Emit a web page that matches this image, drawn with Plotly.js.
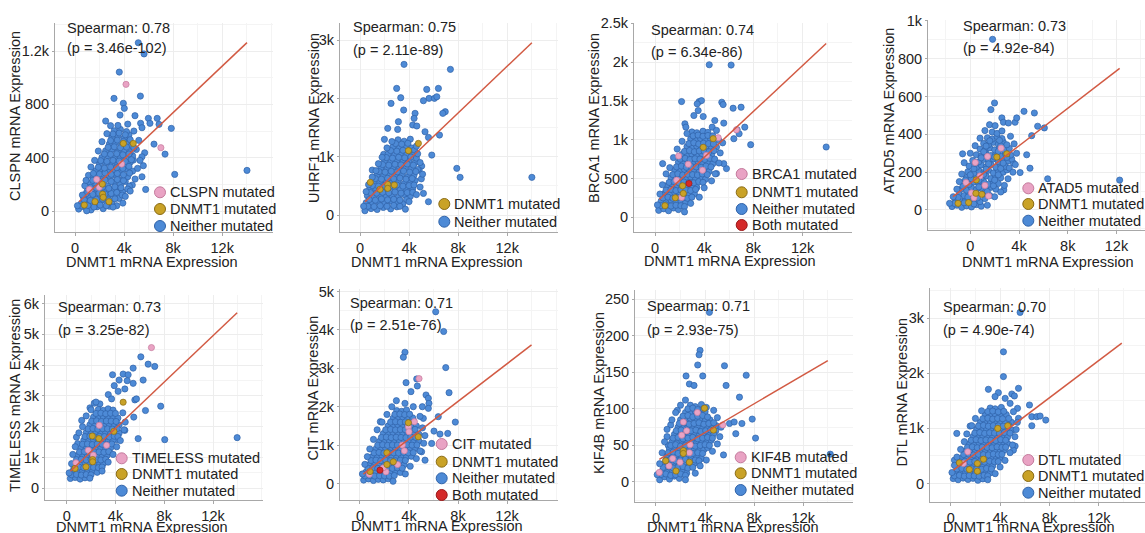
<!DOCTYPE html>
<html><head><meta charset="utf-8">
<script src="https://cdn.plot.ly/plotly-3.0.1.min.js"></script>
<style>html,body{margin:0;padding:0;background:#fff}#chart{width:1145px;height:533px}</style>
</head><body><div id="chart"></div>
<script>
// ---------- DATA (x = DNMT1 mRNA expression in thousands, y = gene mRNA expression) ----------
const genes = ['CLSPN','UHRF1','BRCA1','ATAD5','TIMELESS','CIT','KIF4B','DTL'];
const spearman = ['0.78','0.75','0.74','0.73','0.73','0.71','0.71','0.70'];
const pvals = ['3.46e-102','2.11e-89','6.34e-86','4.92e-84','3.25e-82','2.51e-76','2.93e-75','4.90e-74'];
const xTickVals = [0,4,8,12];
const xTickText = ['0','4k','8k','12k'];

const clspnNeither = [[5.16,1262],[5.63,1178],[3.61,1042],[3.18,845],[5.33,862],[3.94,808],[4.02,770],[2.5,675],[3.67,720],[4.89,715],[5.98,695],[6.7,695],[5.35,658],[6.11,658],[6.85,650],[7.85,620],[5.46,625],[6.44,502],[7.34,427],[5.68,437],[5.57,340],[5.46,407],[8.13,275],[14.02,305],[5.46,257],[5.76,162],[4.67,195],[4.43,187],[4.76,382],
[0.3,15],[0.8,28],[1.3,8],[1.8,32],[2.3,18],[2.8,36],[0.95,2],
[0.5,55],[1.0,72],[1.5,48],[2.0,66],[2.5,78],[3.0,58],[3.4,40],
[0.7,100],[1.2,112],[1.7,94],[2.2,118],[2.7,104],[3.2,122],[3.6,95],
[1.0,152],[1.5,140],[2.0,162],[2.5,146],[3.0,156],[3.5,168],[3.9,142],
[1.2,210],[1.7,194],[2.2,206],[2.7,188],[3.2,216],[3.7,200],[4.1,222],
[1.1,268],[1.5,250],[1.9,262],[2.4,244],[2.9,256],[3.4,266],[3.9,240],[4.3,258],
[1.7,302],[2.2,312],[2.7,294],[3.2,306],[3.7,290],[4.2,316],[4.7,300],
[2.0,352],[2.5,362],[3.0,344],[3.5,356],[4.0,338],[4.5,366],
[2.2,402],[2.7,412],[3.2,394],[3.7,406],[4.2,390],[4.7,414],
[2.5,452],[3.0,462],[3.5,444],[4.0,456],[4.5,440],[5.0,462],
[2.8,502],[3.3,512],[3.8,494],[4.3,522],[4.6,488],
[3.0,552],[3.5,562],[4.0,546],[4.4,572],
[3.2,602],[3.7,612],[4.2,596],[3.5,642],[4.3,652],
[0.55,38],[1.05,42],[1.55,30],[2.05,45],[2.55,40],[3.1,30],
[0.75,85],[1.25,80],[1.75,88],[2.25,90],[2.75,84],[3.25,92],
[0.9,130],[1.45,125],[1.95,135],[2.45,128],[2.95,132],[3.4,140],[3.85,120],
[1.25,178],[1.75,172],[2.25,180],[2.75,170],[3.25,182],[3.75,175],[4.3,165],
[1.45,230],[1.95,225],[2.45,232],[2.95,222],[3.45,236],[3.95,228],
[1.5,282],[2.0,278],[2.45,285],[2.95,275],[3.45,282],[3.95,272],[4.45,285],
[1.9,328],[2.4,322],[2.9,330],[3.4,325],[3.9,320],[4.4,335],
[2.1,378],[2.6,372],[3.1,380],[3.6,375],[4.1,372],[4.6,385],
[2.4,428],[2.9,425],[3.4,430],[3.9,422],[4.4,428],
[2.7,478],[3.2,482],[3.7,475],[4.2,480],[4.8,475],
[2.9,528],[3.45,532],[3.95,522],[4.5,535],
[3.1,578],[3.6,585],[4.1,572]];
const clspnNeitherEdge = [[0.2,40],[0.6,120],[0.8,190],[0.9,230],[1.3,330],[1.6,380],[1.9,450],[2.2,520],[2.6,580],[2.9,640],[3.9,60],[4.1,110],[4.5,150],[4.9,240],[5.1,320],[5.3,380],[5.2,530],[4.8,600]];
const clspnGeneMut = [[4.16,950],[7.0,475],[1.17,162],[1.77,237],[1.98,178],[3.8,352]];
const clspnDnmt1Mut = [[3.94,507],[4.75,507],[2.23,202],[2.25,127],[2.3,103],[1.63,70],[2.77,70],[0.76,45]];
const clspnBothMut = [];
const clspnFitX = [0.33,14.02], clspnFitY = [70,1263];

const uhrf1Neither = [[3.59,2583],[7.37,2497],[2.99,2171],[5.44,2154],[6.39,2171],[3.32,2011],[5.63,2000],[6.07,2000],[6.26,2028],[5.17,1960],[2.53,1914],[3.56,1800],[6.95,1771],[6.75,1743],[4.49,1743],[4.41,1657],[3.13,1600],[4.3,1543],[4.63,1526],[5.3,1428],[6.48,1371],[2.26,1486],[3.07,1468],[5.58,1331],[1.99,1297],[5.85,1028],[7.89,800],[8.16,646],[14.01,646],[5.17,371],[5.58,228],[3.89,303],[1.93,1040],[1.0,771],[5.03,840],[4.82,771],
[0.4,74],[0.9,110],[1.4,95],[1.9,130],[2.5,105],[3.0,140],
[0.5,210],[1.0,190],[1.5,230],[2.0,200],[2.5,240],[3.0,215],[3.5,195],
[0.6,330],[1.1,300],[1.6,345],[2.1,310],[2.6,335],[3.1,300],[3.6,350],[4.1,320],
[0.8,450],[1.3,425],[1.8,460],[2.3,430],[2.8,465],[3.3,440],[3.8,420],[4.3,455],
[1.1,570],[1.6,545],[2.1,580],[2.6,555],[3.1,575],[3.6,540],[4.1,565],[4.5,590],
[1.4,690],[1.9,665],[2.4,700],[2.9,670],[3.4,695],[3.9,660],[4.4,685],
[1.7,810],[2.2,785],[2.7,820],[3.2,790],[3.7,815],[4.2,795],[4.7,780],
[2.0,930],[2.5,905],[3.0,940],[3.5,910],[4.0,935],[4.5,900],
[2.3,1050],[2.8,1025],[3.3,1060],[3.8,1030],[4.3,1055],
[2.7,1170],[3.2,1145],[3.7,1180],[4.2,1150],
[3.1,1290],[3.6,1265],[4.1,1300],
[0.65,150],[1.15,145],[1.65,160],[2.2,150],[2.75,165],[3.25,150],
[0.75,265],[1.25,255],[1.75,275],[2.25,260],[2.75,270],[3.25,255],[3.8,265],
[0.85,385],[1.35,375],[1.85,390],[2.35,380],[2.85,395],[3.35,375],[3.85,385],[4.3,390],
[1.0,505],[1.5,495],[2.0,510],[2.5,500],[3.0,515],[3.5,495],[4.0,505],[4.4,515],
[1.25,625],[1.75,615],[2.25,630],[2.75,620],[3.25,635],[3.75,615],[4.25,625],
[1.55,745],[2.05,735],[2.55,750],[3.05,740],[3.55,755],[4.05,735],[4.55,745],
[1.85,865],[2.35,855],[2.85,870],[3.35,860],[3.85,875],[4.35,855],
[2.15,985],[2.65,975],[3.15,990],[3.65,980],[4.15,995],[4.6,975],
[2.5,1105],[3.0,1095],[3.5,1110],[4.0,1100],[4.45,1115],
[2.9,1225],[3.4,1215],[3.9,1230]];
const uhrf1NeitherEdge = [[0.3,150],[0.5,400],[0.7,520],[1.0,650],[1.3,760],[1.5,880],[1.8,990],[2.2,1150],[2.6,1260],[3.7,100],[4.0,230],[4.6,350],[4.9,480],[5.0,620],[5.1,700],[4.9,900],[4.7,1050],[4.6,1180]];
const uhrf1GeneMut = [];
const uhrf1Dnmt1Mut = [[0.84,560],[1.63,440],[2.26,526],[2.26,457],[2.8,514],[3.95,1103],[4.76,1228]];
const uhrf1BothMut = [];
const uhrf1FitX = [0.41,14.01], uhrf1FitY = [229,2954];

const brca1Neither = [[4.41,1966],[6.19,1962],[2.16,1492],[3.59,1492],[3.78,1504],[3.43,1462],[5.43,1483],[5.54,1453],[6.35,1406],[7.0,1419],[3.51,1376],[3.92,1299],[3.16,1312],[2.43,1205],[4.86,1248],[5.59,1214],[2.51,1162],[4.65,1162],[7.3,1162],[6.68,1128],[6.41,1013],[6.84,1077],[5.0,1120],[7.78,936],[13.92,906],[5.81,628],[5.59,692],[5.0,564],[0.62,692],
[0.3,90],[0.7,110],[1.1,85],[1.5,120],[1.9,100],
[0.5,210],[0.9,190],[1.3,225],[1.7,200],[2.1,215],[2.5,195],
[0.8,310],[1.2,290],[1.6,320],[2.0,300],[2.4,315],[2.8,290],[3.2,305],
[1.0,410],[1.4,390],[1.8,420],[2.2,395],[2.6,415],[3.0,400],[3.4,385],
[1.3,510],[1.7,490],[2.1,515],[2.5,500],[2.9,520],[3.3,495],[3.7,510],[4.1,490],
[1.6,610],[2.0,590],[2.4,615],[2.8,600],[3.2,620],[3.6,595],[4.0,610],[4.4,590],
[1.9,710],[2.3,690],[2.7,715],[3.1,700],[3.5,720],[3.9,695],[4.3,710],[4.7,690],
[2.2,810],[2.6,790],[3.0,815],[3.4,800],[3.8,820],[4.2,795],[4.6,805],
[2.6,910],[3.0,890],[3.4,915],[3.8,900],[4.2,920],[4.6,895],[5.0,905],
[2.9,1010],[3.3,990],[3.7,1015],[4.1,1000],[4.5,1020],[5.2,990],
[3.0,1100],[3.4,1090],[3.9,1110],[4.3,1095],
[0.5,150],[0.9,160],[1.3,145],[1.7,155],[2.1,150],[2.4,140],
[0.65,250],[1.05,260],[1.45,245],[1.85,255],[2.25,250],[2.65,245],[3.0,260],
[0.9,350],[1.3,360],[1.7,345],[2.1,355],[2.5,350],[2.9,345],[3.3,360],
[1.15,450],[1.55,460],[1.95,445],[2.35,455],[2.75,450],[3.15,445],[3.55,460],[3.9,450],
[1.45,550],[1.85,560],[2.25,545],[2.65,555],[3.05,550],[3.45,545],[3.85,560],[4.25,550],
[1.75,650],[2.15,660],[2.55,645],[2.95,655],[3.35,650],[3.75,645],[4.15,660],[4.55,650],
[2.05,750],[2.45,760],[2.85,745],[3.25,755],[3.65,750],[4.05,745],[4.45,760],[4.85,750],
[2.4,850],[2.8,860],[3.2,845],[3.6,855],[4.0,850],[4.4,845],[4.8,860],
[2.75,950],[3.15,960],[3.55,945],[3.95,955],[4.35,950],[4.75,945],
[3.1,1050],[3.5,1060],[3.9,1045],[4.3,1055],[4.7,1050]];
const brca1NeitherEdge = [[0.2,160],[0.4,300],[0.6,420],[0.9,560],[1.2,640],[1.5,770],[1.8,880],[2.2,980],[2.6,1080],[2.4,70],[2.9,180],[3.6,260],[4.0,380],[4.6,470],[4.9,560],[5.2,700],[5.3,830],[5.5,960]];
const brca1GeneMut = [[1.92,790],[2.7,684],[1.76,479],[4.19,799],[3.86,607],[5.14,1026],[6.62,1128],[2.16,256]];
const brca1Dnmt1Mut = [[4.73,1013],[3.92,902],[2.24,406],[2.3,308],[1.65,252],[0.81,150]];
const brca1BothMut = [[2.76,436]];
const brca1FitX = [0.35,13.92], brca1FitY = [231,2240];

const atad5Neither = [[1.83,903],[1.99,566],[1.69,531],[2.59,487],[2.72,464],[3.13,460],[3.68,464],[3.81,487],[4.41,522],[5.26,513],[5.53,443],[6.08,434],[5.04,393],[1.58,451],[2.04,446],[4.63,292],[4.09,198],[4.9,221],[6.35,165],[12.26,158],[2.75,106],[3.54,248],[-0.63,297],
[-1.5,18],[-1.1,25],[-0.7,14],[-0.3,22],[0.1,16],[0.5,28],[0.9,20],
[-1.2,52],[-0.8,45],[-0.4,58],[0.0,48],[0.4,55],[0.8,44],[1.2,60],
[-0.9,82],[-0.5,76],[-0.1,88],[0.3,78],[1.1,85],[1.6,76],
[-0.7,112],[-0.3,105],[0.1,118],[0.5,108],[0.9,115],[1.3,104],[1.7,120],[2.1,110],
[-0.5,142],[-0.1,135],[0.3,148],[0.7,138],[1.1,150],[1.5,136],[1.9,146],[2.3,140],
[-0.3,172],[0.1,165],[0.5,178],[0.9,168],[1.3,180],[1.7,166],[2.1,176],[2.5,170],
[-0.2,202],[0.3,195],[0.7,208],[1.1,198],[1.5,210],[1.9,196],[2.3,206],[2.7,200],[3.0,212],
[-0.1,232],[0.5,225],[0.9,238],[1.3,228],[1.7,240],[2.1,226],[2.5,236],[2.9,230],[3.2,222],
[0.2,262],[0.7,255],[1.1,268],[1.5,258],[1.9,270],[2.3,256],[2.7,266],[3.1,260],[3.4,270],
[0.5,292],[0.9,285],[1.3,298],[1.7,288],[2.1,300],[2.5,286],[2.9,296],[3.3,290],
[0.8,322],[1.2,315],[1.6,328],[2.0,318],[2.4,330],[2.8,316],[3.2,326],
[1.1,352],[1.5,345],[1.9,358],[2.3,348],[2.7,360],[3.0,345],
[1.4,382],[1.8,375],[2.2,388],[2.6,378],
[1.8,412],[2.2,405],[2.6,418],
[-1.3,35],[-0.5,38],[0.3,32],[-1.0,66],[-0.2,68],[0.6,64],[1.4,98],[-0.6,125],[0.7,122],[1.9,128],[-0.4,158],[0.7,156],[2.0,158],[0.0,186],[1.1,188],[2.3,186],[0.3,218],[1.3,216],[2.5,220],[0.4,246],[1.5,244],[2.7,248],[0.9,276],[2.0,280],[3.0,278],[1.1,308],[2.3,310],[1.3,338],[2.5,340],[1.6,366],[2.4,368]];
const atad5NeitherEdge = [[-1.7,35],[-1.4,70],[-1.1,110],[-0.9,150],[-0.7,190],[-0.5,250],[0.0,300],[0.4,340],[0.8,380],[1.2,420],[1.4,25],[2.0,70],[2.5,95],[2.8,130],[3.1,165],[3.5,200],[3.7,240],[3.8,300],[3.6,350],[3.3,390]];
const atad5GeneMut = [[2.53,327],[1.42,283],[0.41,251],[0.8,180],[-0.35,145],[0.1,90],[1.5,74],[0.3,65],[1.2,130]];
const atad5Dnmt1Mut = [[2.18,280],[3.0,297],[0.49,159],[0.46,88],[0.95,83],[-0.14,39],[-1.0,35]];
const atad5BothMut = [];
const atad5FitX = [-1.42,12.26], atad5FitY = [71,749];

const timelessNeither = [[6.08,4268],[6.68,4031],[7.22,3956],[3.76,3687],[4.63,3709],[5.04,3687],[5.45,3902],[6.27,3515],[4.3,3515],[4.96,3494],[3.9,3333],[4.77,3225],[5.45,3408],[3.41,3042],[4.22,3150],[3.68,2903],[5.59,2870],[5.72,2903],[7.71,2666],[6.46,2526],[1.91,2612],[2.26,2763],[2.72,2741],[5.5,2311],[1.23,2204],[5.86,1613],[8.04,1580],[13.98,1645],[4.77,1881],[4.17,1580],[0.8,1660],[0.9,1450],
[0.3,320],[0.7,350],[1.1,300],[1.5,340],
[0.5,560],[0.9,530],[1.3,580],[1.7,540],[2.1,570],[2.5,520],
[0.7,810],[1.1,780],[1.5,830],[1.9,790],[2.3,820],[2.7,780],[3.0,800],
[0.9,1060],[1.3,1030],[1.7,1080],[2.1,1040],[2.5,1070],[2.9,1030],[3.3,1060],
[1.2,1310],[1.6,1280],[2.0,1330],[2.4,1290],[2.8,1320],[3.2,1280],[3.6,1310],
[1.4,1560],[1.8,1530],[2.2,1580],[2.6,1540],[3.0,1570],[3.4,1530],[3.8,1560],
[1.6,1810],[2.0,1780],[2.4,1830],[2.8,1790],[3.2,1820],[3.6,1780],[4.0,1810],[4.3,1790],
[1.9,2060],[2.3,2030],[2.7,2080],[3.1,2040],[3.5,2070],[3.9,2030],[4.3,2060],
[2.2,2310],[2.6,2280],[3.0,2330],[3.4,2290],[3.8,2320],[4.2,2280],
[2.6,2560],[3.0,2530],[3.4,2580],[3.8,2540],
[0.4,440],[0.8,450],[1.2,430],[1.6,445],[2.0,440],
[0.6,680],[1.0,690],[1.4,670],[1.8,685],[2.2,680],[2.6,670],[2.9,690],
[0.8,930],[1.2,940],[1.6,920],[2.0,935],[2.4,930],[2.8,920],[3.2,940],
[1.05,1180],[1.45,1190],[1.85,1170],[2.25,1185],[2.65,1180],[3.05,1170],[3.45,1190],
[1.3,1430],[1.7,1440],[2.1,1420],[2.5,1435],[2.9,1430],[3.3,1420],[3.7,1440],
[1.5,1680],[1.9,1690],[2.3,1670],[2.7,1685],[3.1,1680],[3.5,1670],[3.9,1690],[4.2,1680],
[1.75,1930],[2.15,1940],[2.55,1920],[2.95,1935],[3.35,1930],[3.75,1920],[4.15,1940],
[2.05,2180],[2.45,2190],[2.85,2170],[3.25,2185],[3.65,2180],[4.05,2170],
[2.4,2430],[2.8,2440],[3.2,2420],[3.6,2435],[4.0,2430]];
const timelessNeitherEdge = [[0.2,500],[0.4,800],[0.5,1100],[0.7,1350],[1.0,1800],[1.3,2000],[1.6,2350],[2.0,2550],[2.4,2800],[1.9,330],[2.9,560],[3.4,850],[3.8,1100],[4.1,1350],[4.4,1550],[4.7,1900],[4.8,2150],[4.6,2450]];
const timelessGeneMut = [[6.95,4569],[2.67,2043],[3.27,1398],[1.77,1236],[2.18,1075],[0.76,828]];
const timelessDnmt1Mut = [[4.63,2795],[3.87,1849],[2.64,1613],[2.1,1698],[2.13,935],[2.13,860],[1.58,699],[0.68,645]];
const timelessBothMut = [];
const timelessFitX = [0.3,13.98], timelessFitY = [555,5698];

const citNeither = [[6.18,4472],[6.83,3959],[7.0,3019],[3.67,3419],[3.54,3289],[4.63,2723],[3.76,2627],[4.16,2393],[4.68,2540],[5.39,2306],[5.58,2219],[5.63,2088],[5.58,1958],[2.97,2158],[3.67,2088],[4.35,2001],[5.09,2001],[7.27,2366],[7.78,1601],[6.39,1740],[6.53,1288],[6.04,1366],[7.16,1305],[5.17,1697],[4.35,1653],[1.66,1610],[5.31,609],[5.03,827],[5.85,1044],
[0.3,90],[0.7,120],[1.1,80],[1.5,110],[1.9,95],[2.3,125],
[0.5,300],[0.9,280],[1.3,320],[1.7,290],[2.1,315],[2.5,280],[2.9,305],[3.3,290],
[0.8,500],[1.2,480],[1.6,520],[2.0,490],[2.4,515],[2.8,480],[3.2,505],[3.6,490],
[1.0,700],[1.4,680],[1.8,720],[2.2,690],[2.6,715],[3.0,680],[3.4,705],[3.8,690],[4.2,710],
[1.3,900],[1.7,880],[2.1,920],[2.5,890],[2.9,915],[3.3,880],[3.7,905],[4.1,890],[4.5,910],
[1.6,1100],[2.0,1080],[2.4,1120],[2.8,1090],[3.2,1115],[3.6,1080],[4.0,1105],[4.4,1090],[4.8,1110],
[1.9,1300],[2.3,1280],[2.7,1320],[3.1,1290],[3.5,1315],[3.9,1280],[4.3,1305],[4.8,1290],
[2.3,1500],[2.7,1480],[3.1,1520],[3.5,1490],[3.9,1515],[4.3,1480],[4.6,1500],
[2.7,1700],[3.1,1680],[3.5,1720],[3.9,1690],[4.3,1710],
[3.0,1900],[3.4,1880],[3.8,1915],
[0.4,200],[0.8,210],[1.2,195],[1.6,205],[2.0,200],[2.4,195],[2.8,210],
[0.65,400],[1.05,410],[1.45,395],[1.85,405],[2.25,400],[2.65,395],[3.05,410],[3.45,400],
[0.9,600],[1.3,610],[1.7,595],[2.1,605],[2.5,600],[2.9,595],[3.3,610],[3.7,600],
[1.15,800],[1.55,810],[1.95,795],[2.35,805],[2.75,800],[3.15,795],[3.55,810],[3.95,800],[4.35,805],
[1.45,1000],[1.85,1010],[2.25,995],[2.65,1005],[3.05,1000],[3.45,995],[3.85,1010],[4.25,1000],[4.65,1005],
[1.75,1200],[2.15,1210],[2.55,1195],[2.95,1205],[3.35,1200],[3.75,1195],[4.15,1210],[4.55,1200],
[2.1,1400],[2.5,1410],[2.9,1395],[3.3,1405],[3.7,1400],[4.1,1395],[4.5,1410],
[2.5,1600],[2.9,1610],[3.3,1595],[3.7,1605],[4.1,1600],
[2.85,1800],[3.25,1810],[3.65,1795],[4.05,1805]];
const citNeitherEdge = [[0.2,250],[0.4,500],[0.6,700],[0.8,900],[1.1,1150],[1.4,1400],[1.8,1600],[2.2,1800],[2.6,2000],[2.7,60],[3.7,250],[4.1,450],[4.6,650],[4.9,850],[5.2,1050],[5.3,1250],[5.1,1450],[4.9,1750]];
const citGeneMut = [[4.82,2732],[4.44,1610],[3.95,1479],[4.0,1349],[3.46,1001],[3.62,853],[3.07,496],[2.12,305],[0.76,244],[1.9,409]];
const citDnmt1Mut = [[3.95,1583],[4.76,1218],[2.2,800],[2.72,566],[2.2,496],[0.82,313]];
const citBothMut = [[1.63,348]];
const citFitX = [0.27,14.0], citFitY = [244,3610];

const kif4bNeither = [[4.35,232],[3.59,180],[3.51,174],[3.4,160],[5.58,159],[2.45,145],[3.81,145],[7.35,146],[2.72,134],[3.1,132],[5.71,132],[6.8,116],[1.74,98],[7.84,86],[7.0,80],[6.5,66],[8.11,60],[14.2,38],[5.5,37],[5.99,80],[4.87,70],[6.37,82],[0.9,62],[1.2,78],[1.0,50],
[0.3,3],[0.7,7],[1.1,4],[1.5,8],[1.9,5],
[0.5,15],[0.9,13],[1.3,17],[1.7,14],[2.1,16],[2.5,12],
[0.7,25],[1.1,23],[1.5,27],[1.9,24],[2.3,26],[2.7,22],[3.1,25],
[0.9,35],[1.3,33],[1.7,37],[2.1,34],[2.5,36],[2.9,33],[3.3,35],[3.7,32],
[1.1,45],[1.5,43],[1.9,47],[2.3,44],[2.7,46],[3.1,43],[3.5,45],[3.9,44],[4.2,47],
[1.3,55],[1.7,53],[2.1,57],[2.5,54],[2.9,56],[3.3,53],[3.7,55],[4.1,54],[4.5,57],
[1.5,65],[1.9,63],[2.3,67],[2.7,64],[3.1,66],[3.5,63],[3.9,65],[4.3,64],[4.7,66],
[1.8,75],[2.2,73],[2.6,77],[3.0,74],[3.4,76],[3.8,73],[4.2,75],[4.6,74],[4.9,77],
[2.0,85],[2.4,83],[2.8,87],[3.2,84],[3.6,86],[4.0,83],[4.4,85],
[2.4,95],[2.8,93],[3.2,97],[3.6,94],[4.0,96],
[2.8,105],[3.2,103],[3.7,106],[4.1,102],
[0.4,10],[0.8,11],[1.2,9],[1.6,10],[2.0,11],[2.4,9],
[0.6,20],[1.0,21],[1.4,19],[1.8,20],[2.2,21],[2.6,19],[3.0,20],
[0.8,30],[1.2,31],[1.6,29],[2.0,30],[2.4,31],[2.8,29],[3.2,30],[3.5,29],
[1.0,40],[1.4,41],[1.8,39],[2.2,40],[2.6,41],[3.0,39],[3.4,40],[3.8,39],
[1.2,50],[1.6,51],[2.0,49],[2.4,50],[2.8,51],[3.2,49],[3.6,50],[4.0,51],[4.35,50],
[1.4,60],[1.8,61],[2.2,59],[2.6,60],[3.0,61],[3.4,59],[3.8,60],[4.2,61],[4.6,60],
[1.65,70],[2.05,71],[2.45,69],[2.85,70],[3.25,71],[3.65,69],[4.05,70],[4.45,71],
[1.9,80],[2.3,81],[2.7,79],[3.1,80],[3.5,81],[3.9,79],[4.3,80],[4.7,81],
[2.2,90],[2.6,91],[3.0,89],[3.4,90],[3.8,91],[4.2,89],
[2.6,100],[3.0,101],[3.4,99],[3.85,100]];
const kif4bNeitherEdge = [[0.1,10],[0.3,25],[0.5,40],[0.7,55],[0.9,72],[1.3,85],[1.6,95],[2.0,105],[2.4,112],[2.4,3],[3.2,12],[3.6,22],[4.1,30],[4.6,42],[5.0,52],[5.2,62],[5.3,75],[5.0,88],[4.7,98]];
const kif4bGeneMut = [[3.37,95],[2.23,82],[2.1,64],[2.5,70],[2.78,51],[1.36,32],[1.06,22],[0.27,13],[1.96,27],[5.44,78],[2.72,40]];
const kif4bDnmt1Mut = [[3.95,101],[4.68,71],[2.23,43],[2.23,39],[2.72,27],[0.79,29],[1.63,15]];
const kif4bBothMut = [];
const kif4bFitX = [0.27,14.0], kif4bFitY = [31,166];

const dtlNeither = [[5.62,3103],[4.27,2388],[4.27,1939],[5.49,1727],[3.05,1709],[3.86,1648],[4.95,1624],[5.16,1588],[4.41,1545],[3.59,1576],[4.81,1454],[6.38,1424],[5.41,1364],[0.49,909],[1.57,1042],[6.57,1212],[6.97,1212],[7.24,1224],[7.7,1151],[6.57,1048],[5.08,1303],[5.49,1182],[5.22,679],[5.08,606],[0.3,424],
[0.2,90],[0.6,70],[1.0,100],[1.4,75],[1.8,95],[2.2,60],[2.6,85],
[0.4,200],[0.8,185],[1.2,215],[1.6,190],[2.0,210],[2.4,180],[2.8,205],[3.2,195],
[0.6,330],[1.0,315],[1.4,345],[1.8,320],[2.2,340],[2.6,310],[3.0,335],[3.4,320],
[0.9,460],[1.3,445],[1.7,475],[2.1,450],[2.5,470],[2.9,440],[3.3,465],[3.7,450],[4.0,470],
[1.2,590],[1.6,575],[2.0,605],[2.4,580],[2.8,600],[3.2,570],[3.6,595],[4.0,580],[4.3,600],
[1.5,720],[1.9,705],[2.3,735],[2.7,710],[3.1,730],[3.5,700],[3.9,725],[4.3,710],[4.6,730],
[1.8,850],[2.2,835],[2.6,865],[3.0,840],[3.4,860],[3.8,830],[4.2,855],[4.6,840],
[2.1,980],[2.5,965],[2.9,995],[3.3,970],[3.7,990],[4.1,960],[4.5,985],[5.0,970],
[2.4,1110],[2.8,1095],[3.2,1125],[3.6,1100],[4.0,1120],[4.4,1090],[4.9,1115],
[2.8,1240],[3.2,1225],[3.6,1255],[4.0,1230],[4.5,1250],
[3.2,1370],[3.6,1355],[4.1,1380],
[0.3,140],[0.7,150],[1.1,135],[1.5,145],[1.9,140],[2.3,135],[2.7,150],[3.0,140],
[0.5,265],[0.9,275],[1.3,260],[1.7,270],[2.1,265],[2.5,260],[2.9,275],[3.3,265],
[0.75,395],[1.15,405],[1.55,390],[1.95,400],[2.35,395],[2.75,390],[3.15,405],[3.55,395],[3.85,400],
[1.05,525],[1.45,535],[1.85,520],[2.25,530],[2.65,525],[3.05,520],[3.45,535],[3.85,525],[4.15,530],
[1.35,655],[1.75,665],[2.15,650],[2.55,660],[2.95,655],[3.35,650],[3.75,665],[4.15,655],[4.45,660],
[1.65,785],[2.05,795],[2.45,780],[2.85,790],[3.25,785],[3.65,780],[4.05,795],[4.45,785],
[1.95,915],[2.35,925],[2.75,910],[3.15,920],[3.55,915],[3.95,910],[4.35,925],[4.8,915],
[2.25,1045],[2.65,1055],[3.05,1040],[3.45,1050],[3.85,1045],[4.25,1040],[4.7,1055],
[2.6,1175],[3.0,1185],[3.4,1170],[3.8,1180],[4.2,1175],[4.7,1180],
[3.0,1305],[3.4,1315],[3.85,1300],[4.3,1310]];
const dtlNeitherEdge = [[0.1,200],[0.3,330],[0.5,480],[0.8,620],[1.1,760],[1.3,900],[1.7,1050],[2.0,1180],[2.5,1320],[3.0,70],[3.6,180],[4.0,300],[4.4,420],[4.8,560],[5.0,700],[5.2,850],[5.3,980],[5.4,1110]];
const dtlGeneMut = [[1.38,576],[1.03,364]];
const dtlDnmt1Mut = [[3.81,1000],[4.62,1048],[0.7,376],[1.51,255],[2.16,364],[2.16,224],[2.65,442]];
const dtlBothMut = [];
const dtlFitX = [0.22,13.86], dtlFitY = [242,2545];

const yTickVals = [[0,400,800,1200],[0,1000,2000,3000],[0,500,1000,1500,2000,2500],[0,200,400,600,800,1000],[0,1000,2000,3000,4000,5000,6000],[0,1000,2000,3000,4000,5000],[0,50,100,150,200,250],[0,1000,2000,3000]];
const yTickText = [['0','400','800','1.2k'],['0','1k','2k','3k'],['0','500','1k','1.5k','2k','2.5k'],['0','200','400','600','800','1k'],['0','1k','2k','3k','4k','5k','6k'],['0','1k','2k','3k','4k','5k'],['0','50','100','150','200','250'],['0','1k','2k','3k']];

// ---------- LAYOUT / STYLE ----------
const W = 1145, H = 533;
const FONT = 'Liberation Sans, Arial, sans-serif';
const TXT = '#222';
const COL = {
  gene:  {fill:'#e9a3c4', line:'#c47a9c'},
  dnmt1: {fill:'#c9a227', line:'#8a6b14'},
  neither:{fill:'#4d8ad6', line:'#2f62a8'},
  both:  {fill:'#d42a2a', line:'#9a1a1a'}
};
const dataSets = [
  [clspnNeither.concat(clspnNeitherEdge), clspnGeneMut, clspnDnmt1Mut, clspnBothMut, clspnFitX, clspnFitY],
  [uhrf1Neither.concat(uhrf1NeitherEdge), uhrf1GeneMut, uhrf1Dnmt1Mut, uhrf1BothMut, uhrf1FitX, uhrf1FitY],
  [brca1Neither.concat(brca1NeitherEdge), brca1GeneMut, brca1Dnmt1Mut, brca1BothMut, brca1FitX, brca1FitY],
  [atad5Neither.concat(atad5NeitherEdge), atad5GeneMut, atad5Dnmt1Mut, atad5BothMut, atad5FitX, atad5FitY],
  [timelessNeither.concat(timelessNeitherEdge), timelessGeneMut, timelessDnmt1Mut, timelessBothMut, timelessFitX, timelessFitY],
  [citNeither.concat(citNeitherEdge), citGeneMut, citDnmt1Mut, citBothMut, citFitX, citFitY],
  [kif4bNeither.concat(kif4bNeitherEdge), kif4bGeneMut, kif4bDnmt1Mut, kif4bBothMut, kif4bFitX, kif4bFitY],
  [dtlNeither.concat(dtlNeitherEdge), dtlGeneMut, dtlDnmt1Mut, dtlBothMut, dtlFitX, dtlFitY]
];
// pixel geometry of each panel
const geom = [
  {l:55, r:273, t:23, b:232, xr:[-1.63,16.14], yr:[-157,1410], ydt:200,
   ytx:15, yty:116, xtx:151.7, xty:262, sx:65, s1:28.3, s2:48.3, lgx:160, lgy:[192.3,209,226], lg:['gene','dnmt1','neither']},
  {l:340, r:558, t:23, b:232, xr:[-1.63,16.14], yr:[-291,3292], ydt:500,
   ytx:314.5, yty:118.5, xtx:436.7, xty:262, sx:350.7, s1:27.3, s2:50, lgx:444.3, lgy:[204,221.7], lg:['dnmt1','neither']},
  {l:634, r:852, t:23, b:232, xr:[-1.71,16.02], yr:[-189,2504], ydt:250,
   ytx:594.5, yty:118.5, xtx:730, xty:261, sx:649.3, s1:30, s2:51.7, lgx:741.7, lgy:[174,192.3,209,225], lg:['gene','dnmt1','neither','both']},
  {l:928, r:1145, t:20, b:230, xr:[-3.47,14.34], yr:[-106,1005], ydt:100,
   ytx:889, yty:111, xtx:1047.7, xty:262, sx:961, s1:26, s2:48.3, lgx:1028.3, lgy:[188.3,204,220.7], lg:['gene','dnmt1','neither']},
  {l:45, r:263, t:295, b:500, xr:[-1.78,16.1], yr:[-380,6276], ydt:500,
   ytx:15, yty:396, xtx:141.7, xty:526.5, sx:56, s1:306.7, s2:330, lgx:121.7, lgy:[458.3,474,490.7], lg:['gene','dnmt1','neither']},
  {l:340, r:558, t:289, b:500, xr:[-1.63,16.16], yr:[-428,5065], ydt:500,
   ytx:312.5, yty:388, xtx:436.7, xty:526, sx:348.3, s1:303.3, s2:325, lgx:441.7, lgy:[444,461.7,478.3,495], lg:['gene','dnmt1','neither','both']},
  {l:635, r:853, t:290, b:502, xr:[-1.71,16.05], yr:[-27.4,262.6], ydt:25,
   ytx:599, yty:393, xtx:733, xty:527, sx:645, s1:306, s2:330, lgx:740.7, lgy:[457.3,473.3,490], lg:['gene','dnmt1','neither']},
  {l:930, r:1145, t:288, b:502, xr:[-1.68,15.74], yr:[-334,3545], ydt:500,
   ytx:901.5, yty:392, xtx:1029, xty:527, sx:941, s1:306.7, s2:330, lgx:1028.3, lgy:[460,476,492.7], lg:['gene','dnmt1','neither']}
];

const traces = [];
const layout = {
  width: W, height: H, margin: {l:0, r:0, t:0, b:0},
  paper_bgcolor: '#fff', plot_bgcolor: '#fff', showlegend: false,
  font: {family: FONT, size: 14.5, color: TXT},
  annotations: [], shapes: []
};
const px = x => x / W, py = y => 1 - y / H;

geom.forEach((g, i) => {
  const xa = i === 0 ? 'x' : 'x' + (i + 1);
  const ya = i === 0 ? 'y' : 'y' + (i + 1);
  const [neither, geneMut, dnmt1Mut, bothMut, fitX, fitY] = dataSets[i];
  const groups = [['neither', neither], ['gene', geneMut], ['dnmt1', dnmt1Mut], ['both', bothMut]];
  groups.forEach(([k, arr]) => {
    if (!arr.length) return;
    traces.push({
      type: 'scatter', mode: 'markers', xaxis: xa, yaxis: ya, hoverinfo: 'skip',
      x: arr.map(p => p[0]), y: arr.map(p => p[1]),
      marker: {size: 6.2, color: COL[k].fill, line: {color: COL[k].line, width: 0.7}}
    });
  });
  traces.push({type: 'scatter', mode: 'lines', xaxis: xa, yaxis: ya, hoverinfo: 'skip',
    x: fitX, y: fitY, line: {color: '#d25a43', width: 1.5}});

  const axCommon = {
    showline: true, linecolor: '#a8a8a8', linewidth: 1, ticks: 'outside', ticklen: 2,
    tickcolor: '#a8a8a8', showgrid: true, gridcolor: '#ededed', zeroline: false,
    tickfont: {size: 14.5, color: TXT, family: FONT}, fixedrange: true
  };
  layout[i === 0 ? 'xaxis' : 'xaxis' + (i + 1)] = Object.assign({}, axCommon, {
    domain: [px(g.l), px(g.r)], range: g.xr, anchor: ya, ticklen: 3,
    tickmode: 'array', tickvals: xTickVals, ticktext: xTickText,
    minor: {dtick: 2, tick0: 0, showgrid: true, gridcolor: '#f4f4f4', ticklen: 0}
  });
  layout[i === 0 ? 'yaxis' : 'yaxis' + (i + 1)] = Object.assign({}, axCommon, {
    domain: [py(g.b), py(g.t)], range: g.yr, anchor: xa,
    tickmode: 'array', tickvals: yTickVals[i], ticktext: yTickText[i],
    minor: {dtick: g.ydt, tick0: 0, showgrid: true, gridcolor: '#f4f4f4', ticklen: 0}
  });

  const ann = (x, y, text, extra) => layout.annotations.push(Object.assign({
    xref: 'paper', yref: 'paper', x: px(x), y: py(y), text: text, showarrow: false,
    xanchor: 'left', yanchor: 'middle', font: {family: FONT, size: 14.5, color: TXT}
  }, extra || {}));
  ann(g.sx, g.s1, 'Spearman: ' + spearman[i]);
  ann(g.sx, g.s2, '(p = ' + pvals[i] + ')');
  ann(g.ytx, g.yty, genes[i] + ' mRNA Expression', {xanchor: 'center', textangle: -90});
  ann(g.xtx, g.xty, 'DNMT1 mRNA Expression', {xanchor: 'center'});

  const labels = {gene: genes[i] + ' mutated', dnmt1: 'DNMT1 mutated', neither: 'Neither mutated', both: 'Both mutated'};
  g.lg.forEach((k, j) => {
    const yy = g.lgy[j];
    layout.shapes.push({
      type: 'circle', xref: 'paper', yref: 'paper', xsizemode: 'pixel', ysizemode: 'pixel',
      xanchor: px(g.lgx), yanchor: py(yy), x0: -5.5, x1: 5.5, y0: -5.5, y1: 5.5,
      fillcolor: COL[k].fill, line: {color: COL[k].line, width: 1}
    });
    ann(g.lgx + 8, yy, labels[k]);
  });
});

Plotly.newPlot('chart', traces, layout, {staticPlot: true, displayModeBar: false});
</script></body></html>
